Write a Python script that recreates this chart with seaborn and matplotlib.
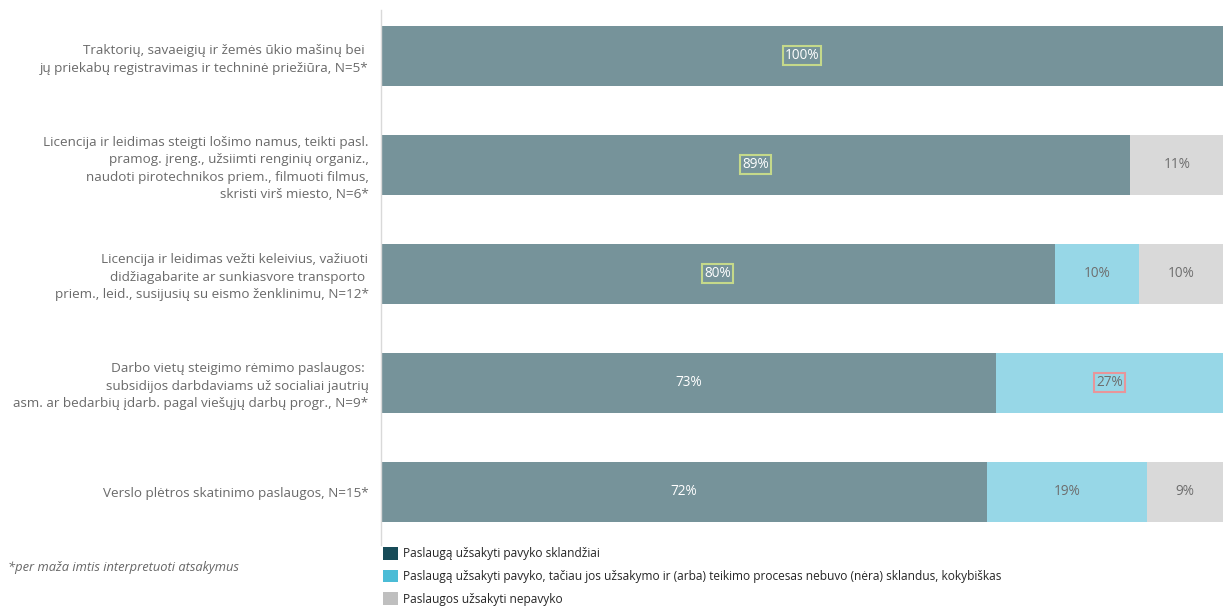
import matplotlib
matplotlib.use("Agg")
import matplotlib.pyplot as plt
import seaborn as sns
import pandas as pd
import numpy as np
from matplotlib.patches import Patch

categories = [
    "Traktorių, savaeigių ir žemės ūkio mašinų bei \njų priekabų registravimas ir techninė priežiūra, N=5*",
    "Licencija ir leidimas steigti lošimo namus, teikti pasl.\npramog. įreng., užsiimti renginių organiz.,\nnaudoti pirotechnikos priem., filmuoti filmus,\nskristi virš miesto, N=6*",
    "Licencija ir leidimas vežti keleivius, važiuoti\ndidžiagabarite ar sunkiasvore transporto \npriem., leid., susijusių su eismo ženklinimu, N=12*",
    "Darbo vietų steigimo rėmimo paslaugos: \nsubsidijos darbdaviams už socialiai jautrių\nasm. ar bedarbių įdarb. pagal viešųjų darbų progr., N=9*",
    "Verslo plėtros skatinimo paslaugos, N=15*",
]
smooth = [100, 89, 80, 73, 72]
not_smooth = [0, 0, 10, 27, 19]
failed = [0, 11, 10, 0, 9]
series_names = [
    "Paslaugą užsakyti pavyko sklandžiai",
    "Paslaugą užsakyti pavyko, tačiau jos užsakymo ir (arba) teikimo procesas nebuvo (nėra) sklandus, kokybiškas",
    "Paslaugos užsakyti nepavyko",
]
boxed = {(0, 0): "#C5D98A", (1, 0): "#C5D98A", (2, 0): "#C5D98A", (3, 1): "#E8959A"}

bar_colors = ["#76939A", "#97D7E7", "#D9D9D9"]
legend_colors = ["#174B58", "#4BBCD6", "#BFBFBF"]

sns.set_theme(style="white")
plt.rcParams["font.family"] = ["Open Sans", "DejaVu Sans"]

df = pd.DataFrame({"cat": categories, "s1": smooth, "s2": not_smooth, "s3": failed})
df["c1"] = df["s1"]
df["c2"] = df["s1"] + df["s2"]
df["c3"] = df["s1"] + df["s2"] + df["s3"]

fig = plt.figure(figsize=(12.23, 6.08), dpi=100)
ax = fig.add_axes([381 / 1223, 1 - 545 / 608, 1 - 381 / 1223, (545 - 10) / 608])

for col, color in zip(["c3", "c2", "c1"], bar_colors[::-1]):
    sns.barplot(data=df, y="cat", x=col, orient="h", color=color, width=0.55,
                saturation=1, ax=ax, order=categories, linewidth=0, edgecolor="none")

ax.set_xlim(0, 100)
ax.set_ylim(4.49, -0.42)
ax.set_xlabel("")
ax.set_ylabel("")
ax.set_xticks([])
ax.tick_params(axis="y", length=0, pad=9)
for lab in ax.get_yticklabels():
    lab.set_fontsize(9.7)
    lab.set_color("#6A6A6A")
    lab.set_horizontalalignment("right")
    lab.set_linespacing(1.45)
for s in ["top", "right", "bottom"]:
    ax.spines[s].set_visible(False)
ax.spines["left"].set_color("#D9D9D9")
ax.spines["left"].set_linewidth(1)

vals = [smooth, not_smooth, failed]
for i in range(len(categories)):
    start = 0
    for j in range(3):
        v = vals[j][i]
        if v > 0:
            color = "white" if j == 0 else "#6E6E6E"
            bbox = None
            if (i, j) in boxed:
                bbox = dict(boxstyle="square,pad=0.15", facecolor="none",
                            edgecolor=boxed[(i, j)], linewidth=1.5)
            ax.text(start + v / 2, i, f"{v}%", ha="center", va="center",
                    fontsize=9.8, color=color, bbox=bbox)
        start += v

handles = [Patch(facecolor=c, edgecolor="none") for c in legend_colors]
fig.legend(handles, series_names, loc="upper left",
           bbox_to_anchor=(383 / 1223, 1 - 547 / 608), frameon=False,
           fontsize=8.6, handlelength=1.25, handleheight=1.25, handletextpad=0.4,
           labelspacing=0.78, borderpad=0, borderaxespad=0)

fig.text(8 / 1223, 1 - 568 / 608, "*per maža imtis interpretuoti atsakymus",
         fontsize=9.3, style="italic", color="#666666", va="center", ha="left")

fig.savefig("out.png", dpi=100)
